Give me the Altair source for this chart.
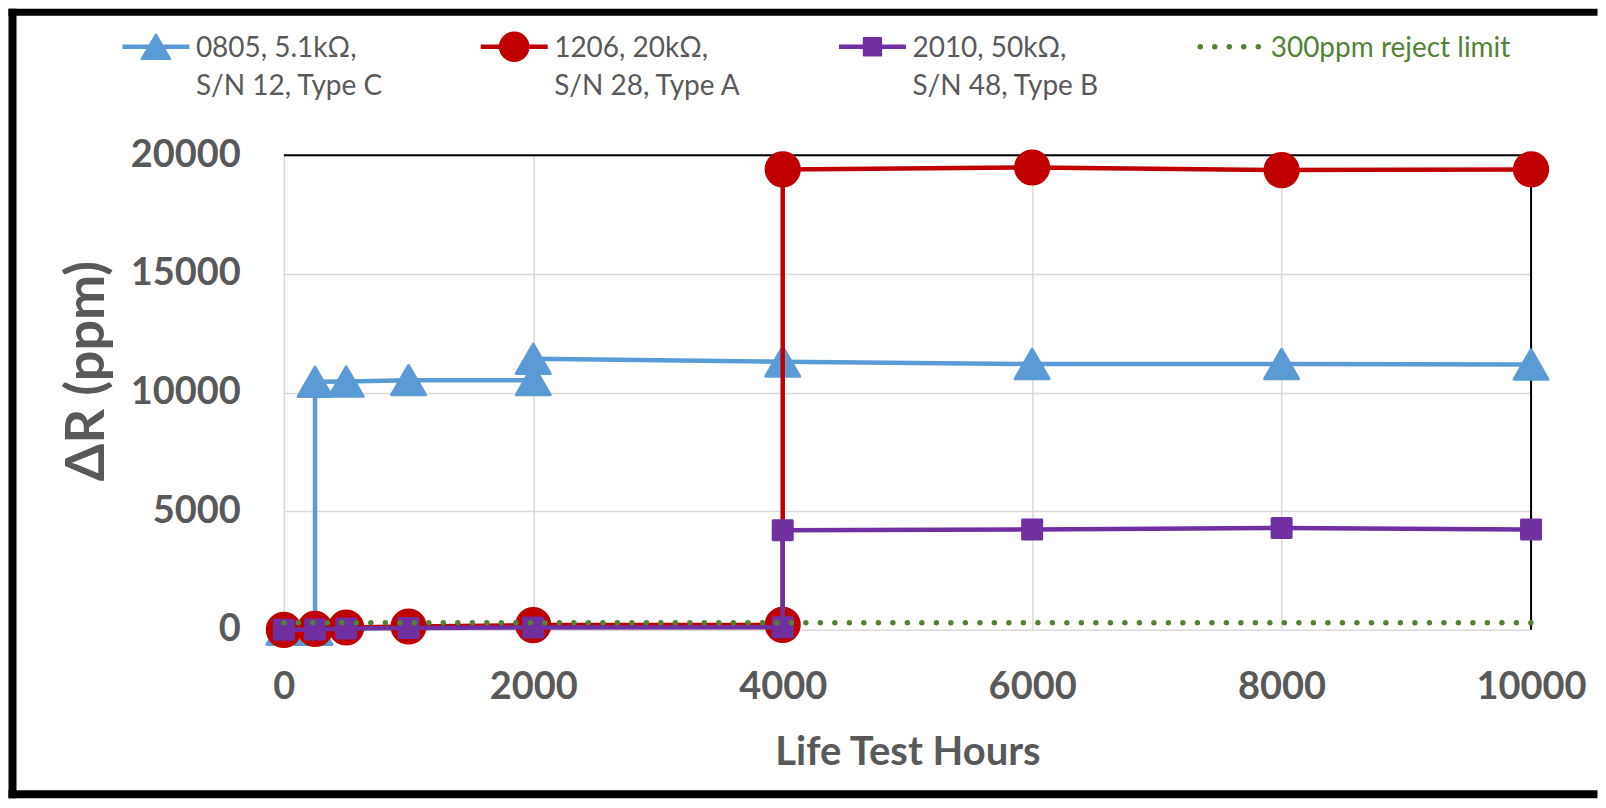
import altair as alt
import pandas as pd

# ---------------- data ----------------
hours_0805 = [0, 250, 250, 500, 1000, 2000, 2000, 4000, 6000, 8000, 10000]
ppm_0805 = [0, 0, 10450, 10460, 10520, 10520, 11420, 11300, 11200, 11200, 11180]

hours_1206 = [0, 250, 500, 1000, 2000, 4000, 4000, 6000, 8000, 10000]
ppm_1206 = [0, 40, 100, 140, 200, 210, 19400, 19480, 19370, 19400]

hours_2010 = [0, 250, 500, 1000, 2000, 4000, 4000, 6000, 8000, 10000]
ppm_2010 = [0, 20, 60, 80, 100, 110, 4200, 4230, 4290, 4230]

limit_hours = [0, 10000]
limit_ppm = [300, 300]

series_labels = [
    "0805, 5.1kΩ,\nS/N 12, Type C",
    "1206, 20kΩ,\nS/N 28, Type A",
    "2010, 50kΩ,\nS/N 48, Type B",
    "300ppm reject limit",
]
x_tick_values = [0, 2000, 4000, 6000, 8000, 10000]
y_tick_values = [0, 5000, 10000, 15000, 20000]

# ---------------- styles / layout ----------------
series_colors = ["#5B9BD5", "#C00000", "#7030A0", "#548235"]
series_shapes = ["triangle-up", "circle", "square"]
series_sizes = [1150, 1100, 361]
legend_sizes = [820, 820, 300]
TEXT_GRAY = "#595959"
FONT = "Lato"

W, H = 1248, 475
LEG_X0, LEG_STEP = -161.5, 358.5   # legend slot origin / spacing (px, plot-relative)
LEG_SYM_Y, LEG_TEXT_Y = -108.5, -120.5

x_axis = alt.Axis(
    values=x_tick_values, format="d", grid=True, gridColor="#D9D9D9", gridWidth=1.5,
    domain=False, ticks=False, tickSize=0, labelFlush=False, labelOverlap=False,
    labelFont=FONT, labelFontWeight="bold", labelFontSize=38, labelColor=TEXT_GRAY,
    labelBaseline="top", labelPadding=39,
    title="Life Test Hours", titleFont=FONT, titleFontWeight="bold", titleFontSize=40,
    titleColor=TEXT_GRAY, titleX=W / 2, titleY=102.5, titleAlign="center", titleBaseline="top",
)
y_axis = alt.Axis(
    values=y_tick_values, format="d", grid=True, gridColor="#D9D9D9", gridWidth=1.5,
    domain=False, ticks=False, tickSize=0, labelFlush=False, labelOverlap=False,
    labelFont=FONT, labelFontWeight="bold", labelFontSize=38, labelColor=TEXT_GRAY,
    labelPadding=43.5,
    title="ΔR (ppm)", titleFont=FONT, titleFontWeight="bold", titleFontSize=54,
    titleColor=TEXT_GRAY, titleX=-169, titleY=H / 2 - 22, titleAngle=270,
    titleAlign="center", titleBaseline="bottom",
)
x_enc = alt.X("hours:Q", scale=alt.Scale(domain=[0, 10000], nice=False), axis=x_axis)
y_enc = alt.Y("ppm:Q", scale=alt.Scale(domain=[0, 20000], nice=False), axis=y_axis)

one = pd.DataFrame({"k": [0]})

# outer frame (open on the right, as in the reference): filled bars, so that
# the layout bounds are exactly their edges and the page never overflows
def frame_bar(x1, x2, y1, y2):
    return alt.Chart(one).mark_rect(color="black", strokeWidth=0).encode(
        x=alt.value(x1), x2=alt.value(x2), y=alt.value(y1), y2=alt.value(y2)
    )

frame_left = frame_bar(-275.5, -267.5, -146.5, 643.5)
frame_top = frame_bar(-275.5, 1314.5, -146.5, -139.5)
frame_bottom = frame_bar(-275.5, 1314.5, 635.5, 643.5)

top_rule = alt.Chart(one).mark_rule(color="black", strokeWidth=2).encode(
    x=alt.value(0), x2=alt.value(W), y=alt.value(0)
)
right_rule = alt.Chart(one).mark_rule(color="black", strokeWidth=2).encode(
    x=alt.value(W), y=alt.value(0), y2=alt.value(H)
)

data_layers = [frame_left, frame_top, frame_bottom, top_rule, right_rule]
series_data = [(hours_0805, ppm_0805), (hours_1206, ppm_1206), (hours_2010, ppm_2010)]
for i, (hrs, vals) in enumerate(series_data):
    df = pd.DataFrame({"hours": hrs, "ppm": vals, "idx": list(range(len(hrs)))})
    base = alt.Chart(df).encode(x=x_enc, y=y_enc, order="idx:Q")
    data_layers.append(
        base.mark_line(color=series_colors[i], strokeWidth=4.5, strokeJoin="round", strokeCap="round")
    )
    data_layers.append(
        base.mark_point(shape=series_shapes[i], size=series_sizes[i], filled=True, opacity=1,
                        fill=series_colors[i], stroke=series_colors[i], strokeWidth=3,
                        strokeJoin="round")
    )

limit_df = pd.DataFrame({"hours": limit_hours, "ppm": limit_ppm})
data_layers.append(
    alt.Chart(limit_df).mark_line(color=series_colors[3], strokeWidth=5.5,
                                  strokeDash=[0.01, 14.5], strokeCap="round")
    .encode(x=x_enc, y=y_enc)
)

# ---------------- legend (own x scale: one slot per entry) ----------------
leg_df = pd.DataFrame({"slot": [0, 1, 2, 3], "series": series_labels})
d0 = -LEG_X0 / LEG_STEP
leg_x = alt.X("slot:Q", scale=alt.Scale(domain=[d0, d0 + W / LEG_STEP], nice=False, zero=False),
              axis=None)
leg_base = alt.Chart(leg_df).encode(x=leg_x)

legend_layers = []
for i in range(3):
    sel = leg_base.transform_filter(alt.datum.slot == i)
    legend_layers.append(
        sel.mark_rule(color=series_colors[i], strokeWidth=4.5, x2Offset=67)
        .encode(x2="slot:Q", y=alt.value(LEG_SYM_Y))
    )
    legend_layers.append(
        sel.mark_point(shape=series_shapes[i], size=legend_sizes[i], filled=True, opacity=1,
                       fill=series_colors[i], stroke=series_colors[i], strokeWidth=2,
                       strokeJoin="round", xOffset=33.5)
        .encode(y=alt.value(LEG_SYM_Y))
    )
    legend_layers.append(
        sel.mark_text(align="left", baseline="top", font=FONT, fontSize=28, color=TEXT_GRAY,
                      lineBreak="\n", lineHeight=38, dx=73.5)
        .encode(y=alt.value(LEG_TEXT_Y), text="series:N")
    )
sel = leg_base.transform_filter(alt.datum.slot == 3)
legend_layers.append(
    sel.mark_rule(color=series_colors[3], strokeWidth=5.5, strokeDash=[0.01, 14.5],
                  strokeCap="round", xOffset=3, x2Offset=64)
    .encode(x2="slot:Q", y=alt.value(LEG_SYM_Y))
)
legend_layers.append(
    sel.mark_text(align="left", baseline="top", font=FONT, fontSize=28, color=series_colors[3],
                  dx=73.5)
    .encode(y=alt.value(LEG_TEXT_Y), text="series:N")
)

chart = (
    alt.layer(alt.layer(*data_layers), alt.layer(*legend_layers))
    .resolve_scale(x="independent")
    .properties(width=W, height=H, padding=0, background="white")
    .configure_view(stroke=None)
)

chart.save("out.html", embed_options={"renderer": "svg", "actions": False})
